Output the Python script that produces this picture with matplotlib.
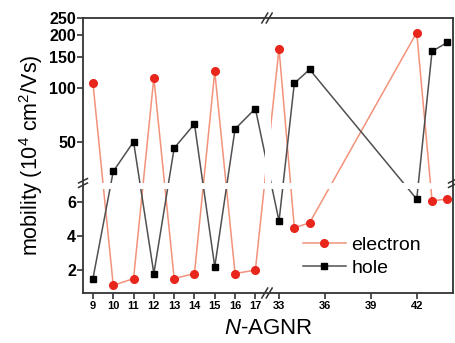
import numpy as np
import matplotlib
matplotlib.use("Agg")
import matplotlib.pyplot as plt

plt.rcParams['font.family'] = ['Liberation Sans', 'DejaVu Sans']
plt.rcParams['mathtext.fontset'] = 'custom'
plt.rcParams['mathtext.rm'] = 'Liberation Sans'
plt.rcParams['mathtext.it'] = 'Liberation Sans:italic'
plt.rcParams['mathtext.bf'] = 'Liberation Sans:bold'

# ---- data ----
n_values = [9, 10, 11, 12, 13, 14, 15, 16, 17, 33, 34, 35, 42, 43, 44]
electron = [107, 1.1, 1.5, 115, 1.5, 1.8, 125, 1.8, 2.0, 168, 4.5, 4.8, 207, 6.1, 6.2]
hole = [1.5, 34, 50, 1.8, 46, 63, 2.2, 59, 77, 4.9, 107, 128, 6.2, 162, 182]
x_ticks = [9, 10, 11, 12, 13, 14, 15, 16, 17, 33, 36, 39, 42]
y_ticks = [2, 4, 6, 50, 100, 150, 200, 250]

# ---- broken-axis scales ----
X_LO, X_B1, X_B2, X_HI = 8.51, 17.49, 32.48, 44.37
XS_L, XS_R = 20.3, 15.3
XP_B1 = (X_B1 - X_LO) * XS_L
XP_B2 = 196 + (X_B2 - 33) * XS_R


def xf(v):
    v = np.asarray(v, float)
    left = (v - X_LO) * XS_L
    right = 196 + (v - 33) * XS_R
    mid = XP_B1 + (v - X_B1) * (XP_B2 - XP_B1) / (X_B2 - X_B1)
    return np.where(v <= X_B1, left, np.where(v >= X_B2, right, mid))


def xi(p):
    p = np.asarray(p, float)
    left = p / XS_L + X_LO
    right = 33 + (p - 196) / XS_R
    mid = X_B1 + (p - XP_B1) * (X_B2 - X_B1) / (XP_B2 - XP_B1)
    return np.where(p <= XP_B1, left, np.where(p >= XP_B2, right, mid))


Y_LO, Y_B1, Y_B2, Y_HI = 0.647, 6.82, 29.4, 250
YS_L, YS_U = 17.0, 178.0
YP_B1 = (Y_B1 - Y_LO) * YS_L
YP_B2 = 111.0


def yf(v):
    v = np.asarray(v, float)
    lower = (v - Y_LO) * YS_L
    upper = YP_B2 + (np.log10(np.maximum(v, 1e-9)) - np.log10(Y_B2)) * YS_U
    mid = YP_B1 + (v - Y_B1) * (YP_B2 - YP_B1) / (Y_B2 - Y_B1)
    return np.where(v <= Y_B1, lower, np.where(v >= Y_B2, upper, mid))


def yi(p):
    p = np.asarray(p, float)
    lower = p / YS_L + Y_LO
    upper = 10 ** (np.log10(Y_B2) + (p - YP_B2) / YS_U)
    mid = Y_B1 + (p - YP_B1) * (Y_B2 - Y_B1) / (YP_B2 - YP_B1)
    return np.where(p <= YP_B1, lower, np.where(p >= YP_B2, upper, mid))


fig = plt.figure(figsize=(4.55, 3.43), dpi=100)
ax = fig.add_axes([83 / 455, 1 - 293 / 343, 370 / 455, 275 / 343])
ax.set_xscale('function', functions=(xf, xi))
ax.set_yscale('function', functions=(yf, yi))
ax.set_xlim(X_LO, X_HI)
ax.set_ylim(Y_LO, Y_HI)

ax.plot(n_values, electron, '-', color='#f3927a', lw=1.1, marker='o',
        markersize=5.5, markerfacecolor='#e8261c', markeredgecolor='#e8261c',
        label='electron', zorder=2)
ax.plot(n_values, hole, '-', color='#505050', lw=1.1, marker='s',
        markersize=5, markerfacecolor='black', markeredgecolor='black',
        label='hole', zorder=2)

# white gap bands at the breaks
ax.axvspan(X_B1, X_B2, color='white', zorder=2.1, lw=0)
ax.axhspan(Y_B1, Y_B2, color='white', zorder=2.1, lw=0)

ax.set_xticks(x_ticks)
ax.set_xticklabels([str(t) for t in x_ticks], fontsize=8, fontweight='bold')
ax.set_yticks(y_ticks)
ax.set_yticklabels([str(t) for t in y_ticks], fontsize=11.5, fontweight='bold')
ax.minorticks_off()
ax.tick_params(direction='out', length=4, width=1.2, color='#333333', pad=2)
ax.tick_params(axis='y', pad=1)
for s in ax.spines.values():
    s.set_linewidth(1.3)
    s.set_color('#333333')

ax.set_xlabel(r'$\it{N}$-AGNR', fontsize=16, labelpad=5)
ax.set_ylabel(r'mobility (10$^4$ cm$^2$/Vs)', fontsize=15.5, labelpad=3)

# break marks
bx = (267 - 83) / 370
by = (293 - 183) / 275
for off in (-0.006, 0.006):
    for yy in (0.0, 1.0):
        ax.plot([bx + off - 0.008, bx + off + 0.008], [yy - 0.018, yy + 0.018],
                transform=ax.transAxes, color='#333333', lw=1.1, clip_on=False,
                zorder=5)
    for xx in (0.0, 1.0):
        ax.plot([xx - 0.012, xx + 0.012], [by + off * 1.35 - 0.008, by + off * 1.35 + 0.008],
                transform=ax.transAxes, color='#333333', lw=1.1, clip_on=False,
                zorder=5)

leg = ax.legend(loc='lower right', bbox_to_anchor=(0.935, 0.03), frameon=False,
                fontsize=14, handlelength=2.2, handletextpad=0.3,
                labelspacing=0.3, borderaxespad=0)

fig.savefig('out.png', dpi=100)
